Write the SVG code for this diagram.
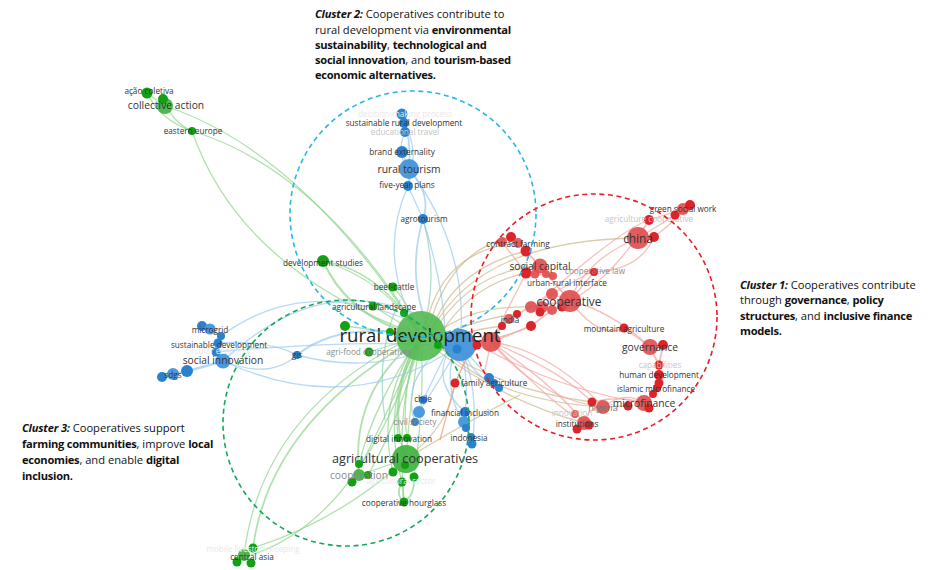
<svg xmlns="http://www.w3.org/2000/svg" width="936" height="570" viewBox="0 0 936 570">
<style>
text{font-family:"Open Sans","Noto Sans","Liberation Sans",sans-serif;text-anchor:middle;fill:#333}
.s{font-size:8.2px}.m{font-size:10.3px}.l{font-size:11.8px}
.f{fill:#c4c4c4;font-size:8.2px}.g{fill:#8a8a8a}.vf{fill:#e8e8e8;font-size:8.2px}
.c{font-size:11.15px;fill:#111;text-anchor:start}
.c tspan.b{font-weight:700;letter-spacing:-.28px}.c tspan.bi{font-weight:700;font-style:italic;letter-spacing:-.2px}
#edges path{fill:none;stroke-linecap:round}
.eg{stroke:#8ed48c;stroke-width:1.3;opacity:.7}.eb{stroke:#9ccbee;stroke-width:1.3;opacity:.72}
.er{stroke:#f4a9a6;stroke-width:1.3;opacity:.75}.et{stroke:#c9b98d;stroke-width:1.3;opacity:.7}
.G{fill:#14a014}.GL{fill:#3fb33f;fill-opacity:.92}
.B{fill:#2a82cf}.BL{fill:#4295da;fill-opacity:.95}
.R{fill:#dc2528}.RL{fill:#e04a4d;fill-opacity:.9}
.d{fill:none;stroke-width:1.6;stroke-dasharray:5 3.6}
</style>
<g id="edges">
<path class="eg" d="M165 106Q300 150 421 336"/><path class="eg" d="M192 131Q320 170 421 336"/><path class="eg" d="M192 131Q240 270 421 336"/>
<path class="eg" d="M147 93Q160 120 192 131"/><path class="eg" d="M147 93L165 106"/><path class="eg" d="M163 99Q172 122 192 131"/>
<path class="eg" d="M323 261Q380 270 421 336"/><path class="eg" d="M323 261Q385 280 421 336"/><path class="eg" style="stroke-width:2.2" d="M323 261Q345 310 400 330"/>
<path class="eg" d="M393 287Q410 305 421 336"/><path class="eg" d="M373 306L421 336"/><path class="eg" d="M345 326L421 336"/><path class="eg" d="M369 352L421 336"/>
<path class="eg" d="M404 313L421 336"/><path class="eg" d="M390 332L421 336"/>
<path class="eg" style="stroke-width:1.8" d="M253 548Q270 420 421 336"/><path class="eg" d="M244 555Q262 410 415 336"/><path class="eg" d="M251 555Q360 520 421 336"/>
<path class="eg" style="stroke-width:1.8" d="M359 475Q350 390 421 336"/><path class="eg" d="M352 482Q385 420 421 336"/><path class="eg" d="M368 475Q400 420 421 336"/>
<path class="eg" d="M359 464Q375 400 421 336"/><path class="eg" d="M393 472Q375 400 421 336"/><path class="eg" d="M402 482Q380 400 421 336"/><path class="eg" d="M414 477Q425 400 421 336"/><path class="eg" d="M404 502Q395 400 421 336"/>
<path class="eg" style="stroke-width:1.8" d="M406 459Q385 400 421 336"/><path class="eg" d="M406 459Q410 400 421 336"/><path class="eg" d="M398 438Q392 380 421 336"/><path class="eg" d="M407 438Q400 390 421 336"/>
<path class="eg" d="M393 472L406 459"/><path class="eg" style="stroke-width:1.8" d="M402 482L404 502"/><path class="eg" style="stroke-width:1.8" d="M414 477Q415 495 404 502"/><path class="eg" style="stroke-width:1.8" d="M402 482Q395 495 404 502"/>
<path class="eg" d="M359 475L406 459"/><path class="eg" d="M253 548Q340 520 406 459"/>
<path class="et" d="M406 459Q450 425 455 383"/><path class="et" d="M406 459Q470 420 520 395"/>
<path class="er" style="stroke:#f09a70" d="M455 383L440 440"/>
<path class="eb" style="stroke-width:1.8" d="M402 114Q412 140 409 169"/><path class="eb" d="M405 132Q395 155 409 169"/><path class="eb" d="M404 123Q420 150 408 186"/>
<path class="eb" d="M409 169L408 186"/><path class="eb" d="M402 152L409 169"/><path class="eb" d="M408 186L423 219"/><path class="eb" style="stroke-width:1.8" d="M409 169Q432 195 423 219"/>
<path class="eb" d="M408 186Q375 260 421 336"/><path class="eb" style="stroke-width:1.8" d="M423 219Q405 280 432 336"/><path class="eb" d="M423 219Q445 290 445 340"/><path class="eb" d="M409 169Q470 250 460 345"/>
<path class="eb" d="M223 361Q320 270 421 316"/><path class="eb" d="M221 336Q310 270 430 330"/>
<path class="eb" style="stroke-width:2.2" d="M297 355Q340 320 421 336"/><path class="eb" d="M223 361Q270 380 297 355"/><path class="eb" d="M218 343Q270 340 297 355"/>
<path class="eb" d="M223 361Q350 420 460 345"/><path class="eb" d="M216 352Q350 340 430 345"/><path class="eb" d="M297 355Q370 375 440 345"/>
<path class="eb" style="stroke-width:2.6" d="M223 361Q200 368 187 371"/><path class="eb" style="stroke-width:2.6" d="M187 371L162 377"/><path class="eb" style="stroke-width:2.6" d="M223 361L216 352L218 343L221 336L210 329"/>
<path class="eb" d="M419 412Q440 380 460 345"/><path class="eb" d="M423 400L450 345"/><path class="eb" d="M415 422Q400 380 445 345"/>
<path class="eb" d="M465 412Q430 380 450 350"/><path class="eb" d="M464 422Q470 380 460 345"/><path class="eb" d="M472 444Q480 390 460 345"/><path class="eb" d="M471 437Q440 390 455 350"/><path class="eb" d="M494 383L460 345"/><path class="eb" d="M499 388Q470 375 462 345"/><path class="eb" d="M464 422L472 444"/>
<path class="eg" style="stroke:#8cd0bc" d="M423 219Q440 280 421 336"/>
<path class="eg" style="stroke:#8cd0bc" d="M400 300Q375 350 385 420"/>
<path class="et" d="M526 251Q450 270 430 335"/><path class="et" d="M518 243Q440 250 425 330"/><path class="et" d="M638 238Q480 240 432 330"/><path class="et" d="M526 273Q470 285 440 335"/><path class="et" d="M531 307Q470 305 435 335"/><path class="et" d="M517 314Q470 320 435 340"/><path class="et" d="M502 326Q470 330 440 340"/><path class="et" d="M531 326Q490 345 445 340"/><path class="et" d="M511 237Q450 250 428 330"/><path class="et" d="M540 266Q470 270 432 335"/>
<path class="et" d="M603 407Q490 400 440 345"/><path class="et" d="M592 402Q500 390 435 345"/><path class="et" d="M584 423Q500 400 430 345"/>
<path class="er" d="M491 342Q560 370 592 402"/><path class="er" d="M491 342Q550 350 603 407"/><path class="er" d="M491 342Q560 390 584 423"/><path class="er" d="M491 342Q570 420 575 414"/><path class="er" d="M480 346Q560 390 644 403"/><path class="er" d="M491 342Q540 400 603 407"/>
<path class="er" d="M592 402Q620 395 644 403"/><path class="er" d="M603 407Q625 390 644 403"/><path class="er" d="M603 407L628 406"/><path class="er" d="M584 423Q590 405 603 407"/>
<path class="er" style="stroke-width:1.9" d="M644 403L653 394L657 388L659 383L659 375L659 365L650 347"/><path class="er" style="stroke-width:1.9" d="M663 345L659 365"/><path class="er" d="M650 347L624 328"/>
<path class="er" d="M570 301Q610 310 650 347"/><path class="er" d="M570 301Q600 340 624 328"/>
<path class="er" style="stroke-width:1.9" d="M491 342L502 326L517 314L531 307L570 301"/><path class="er" style="stroke-width:1.9" d="M491 342L531 326L552 310L570 301"/>
<path class="er" d="M570 301L552 294"/><path class="er" d="M570 301L540 266"/><path class="er" d="M570 301L526 251"/><path class="er" d="M570 301Q585 260 638 238"/><path class="er" d="M570 301Q610 280 649 220"/><path class="er" d="M540 301Q610 260 594 272"/><path class="er" d="M594 272Q640 270 654 237"/><path class="er" d="M594 272L570 301"/><path class="er" d="M540 301Q620 230 649 220"/>
<path class="er" d="M638 238L649 220"/><path class="er" d="M638 238Q660 225 675 215"/><path class="er" d="M654 237Q670 225 690 205"/><path class="er" d="M649 220L683 209"/>
<path class="er" d="M540 266L526 251"/><path class="er" d="M526 273L553 276"/><path class="er" d="M526 251L511 237"/><path class="er" d="M502 242L526 273"/><path class="er" d="M491 342L526 273"/><path class="er" d="M491 342L485 370"/>
<path class="er" style="stroke:#f2907a" d="M455 383L472 346"/>
</g>
<g id="n-big-blue"><circle class="BL" cx="460" cy="345" r="16"/><circle class="B" cx="457" cy="349" r="4.5"/></g>
<g id="n-big-red"><circle class="RL" cx="491" cy="342" r="10"/><circle class="R" cx="477" cy="345" r="4.5"/></g>
<g id="n-rural-development"><circle cx="421" cy="336" r="25" fill="#52ba50" fill-opacity=".9"/><circle class="G" cx="438" cy="345" r="4"/><text x="420" y="342" font-size="18.6" style="fill:#222">rural development</text></g>
<g id="n-collective-action"><circle class="GL" cx="165" cy="106" r="8"/><circle class="G" cx="163" cy="99" r="5"/><text class="m" x="166" y="109">collective action</text></g>
<g id="n-acao-coletiva"><circle class="G" cx="147" cy="93" r="5.5"/><text class="s" x="149" y="94">ação coletiva</text></g>
<g id="n-eastern-europe"><circle class="G" cx="192" cy="131" r="4"/><text class="s" x="193" y="134">eastern europe</text></g>
<g id="n-development-studies"><circle class="G" cx="323" cy="261" r="6"/><text class="s" x="323" y="266">development studies</text></g>
<g id="n-beef-cattle"><circle class="G" cx="393" cy="287" r="4.5"/><text class="s" x="394" y="290">beef-cattle</text></g>
<g id="n-agricultural-landscape"><circle class="G" cx="373" cy="306" r="4.5"/><circle class="G" cx="404" cy="313" r="4"/><text class="s" x="374" y="310">agricultural landscape</text></g>
<g id="n-agri-food"><circle class="G" cx="345" cy="326" r="5"/><circle class="G" cx="390" cy="332" r="4"/><circle class="G" cx="369" cy="352" r="4.5"/><text class="s g" x="369" y="355">agri-food cooperatives</text></g>
<g id="n-educational-travel"><circle class="B" cx="405" cy="132" r="5"/><text class="f" x="405" y="135">educational travel</text></g>
<g id="n-sustainable-rural-development"><circle class="B" cx="402" cy="114" r="5.5"/><circle class="B" cx="404" cy="123" r="5"/><text class="vf" x="405" y="117">decision-making process</text><text class="s" x="404" y="126">sustainable rural development</text></g>
<g id="n-brand-externality"><circle class="B" cx="402" cy="152" r="6"/><text class="s" x="402" y="155">brand externality</text></g>
<g id="n-rural-tourism"><circle class="BL" cx="409" cy="169" r="10"/><text class="m" x="409" y="173">rural tourism</text></g>
<g id="n-five-year-plans"><circle class="B" cx="408" cy="186" r="5"/><text class="s" x="407" y="188">five-year plans</text></g>
<g id="n-agrotourism"><circle class="B" cx="423" cy="219" r="5"/><text class="s" x="424" y="222">agrotourism</text></g>
<g id="n-contract-farming"><circle class="RL" cx="502" cy="242" r="5"/><circle class="R" cx="511" cy="237" r="5"/><circle class="RL" cx="518" cy="243" r="5"/><circle class="R" cx="526" cy="251" r="5.5"/><text class="s" x="518" y="247">contract farming</text></g>
<g id="n-social-capital"><circle class="RL" cx="540" cy="266" r="7.5"/><circle class="R" cx="526" cy="273" r="5.5"/><circle class="RL" cx="535" cy="274" r="4.5"/><circle class="RL" cx="546" cy="274" r="4"/><circle class="RL" cx="553" cy="276" r="4"/><text class="m" x="540" y="270">social capital</text></g>
<g id="n-urban-rural-interface"><text class="s" x="567" y="286">urban-rural interface</text></g>
<g id="n-cooperative-law"><circle class="R" cx="594" cy="272" r="4"/><text class="s g" x="595" y="274">cooperative law</text></g>
<g id="n-china"><circle class="RL" cx="638" cy="238" r="11"/><circle class="R" cx="654" cy="237" r="5"/><text class="l" x="638" y="243">china</text></g>
<g id="n-agriculture-cooperative"><circle class="R" cx="649" cy="220" r="5"/><text class="f" x="649" y="222">agriculture cooperative</text></g>
<g id="n-green-social-work"><circle class="R" cx="675" cy="215" r="4.5"/><circle class="RL" cx="683" cy="209" r="6"/><circle class="R" cx="690" cy="205" r="5"/><text class="s" x="683" y="212">green social work</text></g>
<g id="n-cooperative"><circle class="RL" cx="552" cy="294" r="6"/><circle class="RL" cx="531" cy="307" r="6"/><circle class="RL" cx="542" cy="307" r="6"/><circle class="R" cx="540" cy="312" r="4.5"/><circle class="RL" cx="552" cy="310" r="5"/><circle class="R" cx="562" cy="307" r="4.5"/><circle class="RL" cx="570" cy="301" r="11"/><text class="l" x="569" y="306">cooperative</text></g>
<g id="n-india"><circle class="R" cx="517" cy="314" r="4"/><circle class="RL" cx="509" cy="319" r="5"/><circle class="R" cx="502" cy="326" r="4"/><circle class="R" cx="531" cy="326" r="5"/><text class="s" x="510" y="323">india</text></g>
<g id="n-mountain-agriculture"><circle class="R" cx="624" cy="328" r="4.5"/><text class="s" x="624" y="332">mountain agriculture</text></g>
<g id="n-governance"><circle class="RL" cx="650" cy="347" r="8"/><circle class="R" cx="663" cy="345" r="5"/><text class="m" x="650" y="351">governance</text></g>
<g id="n-microfinance"><circle class="RL" cx="644" cy="403" r="8"/><circle class="R" cx="649" cy="408" r="4.5"/><circle class="R" cx="628" cy="406" r="4.5"/><text class="m" x="644" y="407">microfinance</text></g>
<g id="n-islamic-microfinance"><circle class="R" cx="659" cy="383" r="4.5"/><circle class="R" cx="657" cy="388" r="4"/><circle class="R" cx="653" cy="394" r="4"/><text class="s" x="656" y="392">islamic microfinance</text></g>
<g id="n-human-development"><circle class="R" cx="659" cy="375" r="5"/><text class="s" x="659" y="378">human development</text></g>
<g id="n-capabilities"><circle class="R" cx="659" cy="365" r="4.5"/><text class="f" x="660" y="368">capabilities</text></g>
<g id="n-nigeria"><circle class="R" cx="592" cy="402" r="4.5"/><circle class="RL" cx="603" cy="407" r="7"/><text x="603" y="411" font-size="9.3" style="fill:#777">nigeria</text></g>
<g id="n-institutions"><circle class="RL" cx="575" cy="414" r="4"/><circle class="RL" cx="584" cy="423" r="7"/><circle class="R" cx="577" cy="429" r="4.5"/><circle class="R" cx="589" cy="425" r="4.5"/><text class="f" x="572" y="416">innovation</text><text class="s" x="577" y="427">institutions</text></g>
<g id="n-family-agriculture"><circle class="R" cx="455" cy="383" r="4.5"/><circle class="B" cx="489" cy="378" r="5"/><circle class="B" cx="494" cy="383" r="4"/><circle class="B" cx="499" cy="388" r="4"/><text class="s" x="494" y="386">family agriculture</text></g>
<g id="n-microgrid"><circle class="B" cx="202" cy="326" r="5"/><circle class="BL" cx="210" cy="329" r="5.5"/><circle class="B" cx="221" cy="336" r="4"/><text class="s" x="210" y="333">microgrid</text></g>
<g id="n-social-innovation"><circle class="BL" cx="223" cy="361" r="7.5"/><text class="m" x="223" y="364">social innovation</text></g>
<g id="n-sustainable-development"><circle class="B" cx="218" cy="343" r="4.5"/><circle class="B" cx="216" cy="352" r="4.5"/><text class="vf" x="218" y="354">circular economy</text><text class="s" x="219" y="348">sustainable development</text></g>
<g id="n-sdgs"><circle class="B" cx="187" cy="371" r="6"/><circle class="BL" cx="173" cy="374" r="6"/><circle class="B" cx="162" cy="377" r="5"/><text class="s" x="173" y="378">sdgs</text></g>
<g id="n-gis"><circle class="B" cx="297" cy="355" r="4"/><text class="s" x="297" y="358">gis</text></g>
<g id="n-civil-society"><circle class="BL" cx="419" cy="412" r="6"/><circle class="B" cx="415" cy="422" r="4"/><text class="s g" x="415" y="425">civil society</text></g>
<g id="n-chile"><circle class="B" cx="423" cy="400" r="4"/><text class="s" x="423" y="402">chile</text></g>
<g id="n-indonesia"><circle class="B" cx="471" cy="437" r="4"/><circle class="B" cx="472" cy="444" r="4.5"/><text class="s" x="469" y="441">indonesia</text></g>
<g id="n-financial-inclusion"><circle class="B" cx="465" cy="412" r="5"/><circle class="BL" cx="464" cy="422" r="6"/><circle class="B" cx="466" cy="428" r="4"/><text class="s" x="465" y="416">financial inclusion</text></g>
<g id="n-agricultural-sector"><circle class="G" cx="393" cy="472" r="4.5"/><circle class="G" cx="402" cy="482" r="4.5"/><circle class="G" cx="414" cy="477" r="4.5"/><text class="vf" x="401" y="484">agricultural sector</text></g>
<g id="n-agricultural-cooperatives"><circle class="GL" cx="406" cy="459" r="14"/><circle class="G" cx="405" cy="465" r="4"/><text x="405" y="463" font-size="12.7">agricultural cooperatives</text></g>
<g id="n-digital-innovation"><circle class="G" cx="398" cy="438" r="4"/><circle class="G" cx="407" cy="438" r="4"/><text class="s" x="399" y="442">digital innovation</text></g>
<g id="n-cooperative-hourglass"><circle class="G" cx="404" cy="502" r="4.5"/><text class="s" x="404" y="506">cooperative hourglass</text></g>
<g id="n-cooperation"><circle class="GL" cx="359" cy="475" r="6"/><circle class="G" cx="359" cy="464" r="4"/><circle class="G" cx="368" cy="475" r="4"/><circle class="G" cx="352" cy="482" r="4.5"/><text class="m g" x="359" y="479">cooperation</text></g>
<g id="n-central-asia"><circle class="G" cx="253" cy="548" r="4.5"/><circle class="GL" cx="244" cy="555" r="6"/><circle class="G" cx="237" cy="562" r="4.5"/><circle class="G" cx="251" cy="563" r="4.5"/><text class="vf" x="253" y="552">mobile livestock keeping</text><text class="s" x="252" y="560">central asia</text></g>
<g id="cluster-circles">
<circle class="d" cx="413" cy="214" r="123" stroke="#29b6e8"/>
<circle class="d" cx="594" cy="317" r="123" stroke="#ee1c25"/>
<circle class="d" cx="346" cy="423" r="123" stroke="#17a85a"/>
</g>
<g id="callouts">
<text class="c" x="315" y="18"><tspan class="bi">Cluster 2:</tspan> Cooperatives contribute to</text>
<text class="c" x="315" y="34">rural development via <tspan class="b">environmental</tspan></text>
<text class="c" x="315" y="49"><tspan class="b">sustainability</tspan>, <tspan class="b">technological and</tspan></text>
<text class="c" x="315" y="64"><tspan class="b">social innovation</tspan>, and <tspan class="b">tourism-based</tspan></text>
<text class="c" x="315" y="79"><tspan class="b">economic alternatives.</tspan></text>
<text class="c" x="740" y="289"><tspan class="bi">Cluster 1:</tspan> Cooperatives contribute</text>
<text class="c" x="740" y="304">through <tspan class="b">governance</tspan>, <tspan class="b">policy</tspan></text>
<text class="c" x="740" y="320"><tspan class="b">structures</tspan>, and <tspan class="b">inclusive finance</tspan></text>
<text class="c" x="740" y="335"><tspan class="b">models.</tspan></text>
<text class="c" x="22" y="432"><tspan class="bi">Cluster 3:</tspan> Cooperatives support</text>
<text class="c" x="22" y="448"><tspan class="b">farming communities</tspan>, improve <tspan class="b">local</tspan></text>
<text class="c" x="22" y="464"><tspan class="b">economies</tspan>, and enable <tspan class="b">digital</tspan></text>
<text class="c" x="22" y="480"><tspan class="b">inclusion.</tspan></text>
</g>
</svg>
